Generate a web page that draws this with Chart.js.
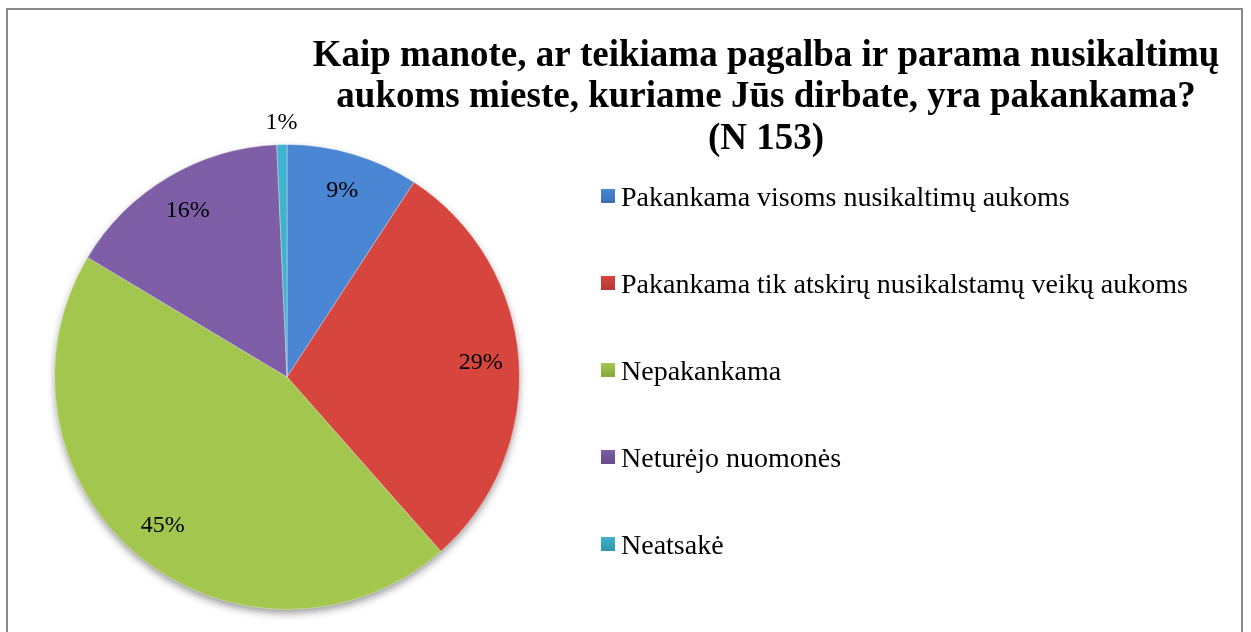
<!DOCTYPE html>
<html>
<head>
<meta charset="utf-8">
<script src="https://cdn.jsdelivr.net/npm/chart.js@4.4.0/dist/chart.umd.min.js"></script>
<style>
  html, body { margin: 0; padding: 0; background: #fff; }
  #wrap { position: relative; width: 1251px; height: 632px; overflow: hidden; }
  #frame { position: absolute; left: 6px; top: 8px; width: 1237px; height: 640px; border: 2px solid #8a8a8a; box-sizing: border-box; }
</style>
</head>
<body>
<div id="wrap">
  <div id="frame"></div>
  <canvas id="myChart" width="1251" height="632"></canvas>
</div>
<script>
const titleLines = ['Kaip manote, ar teikiama pagalba ir parama nusikaltimų', 'aukoms mieste, kuriame Jūs dirbate, yra pakankama?', '(N 153)'];
const labels = ['Pakankama visoms nusikaltimų aukoms', 'Pakankama tik atskirų nusikalstamų veikų aukoms', 'Nepakankama', 'Neturėjo nuomonės', 'Neatsakė'];
const percents = [9.2, 29.3, 45.1, 15.7, 0.7];
const colors = ['#4a86d3', '#d6463f', '#a2c64e', '#7e5ea6', '#3fb3cb'];
const darkColors = ['#3c6fb3', '#b53a34', '#86a83c', '#67498b', '#2f95ac'];

// shadow under the pie + labels, legend and title
const decorPlugin = {
  id: 'decor',
  beforeDatasetsDraw(chart) {
    const arc = chart.getDatasetMeta(0).data[0];
    const ctx = chart.ctx;
    ctx.save();
    ctx.shadowColor = 'rgba(0,0,0,0.45)';
    ctx.shadowBlur = 9;
    ctx.shadowOffsetY = 4;
    ctx.fillStyle = '#999';
    ctx.beginPath();
    ctx.arc(arc.x, arc.y, arc.outerRadius - 1, 0, Math.PI * 2);
    ctx.fill();
    ctx.restore();
  },
  afterDatasetsDraw(chart) {
    const ctx = chart.ctx;
    const meta = chart.getDatasetMeta(0);
    ctx.save();
    ctx.fillStyle = '#000';
    ctx.font = '24px "Liberation Serif", "Times New Roman", serif';
    ctx.textAlign = 'center';
    ctx.textBaseline = 'middle';
    meta.data.forEach((arc, i) => {
      const pct = Math.round(percents[i]);
      const mid = (arc.startAngle + arc.endAngle) / 2;
      const r = pct < 3 ? arc.outerRadius + 22 : arc.outerRadius * 0.835;
      ctx.fillText(pct + '%', arc.x + Math.cos(mid) * r, arc.y + Math.sin(mid) * r);
    });

    // legend
    ctx.font = '28px "Liberation Serif", "Times New Roman", serif';
    ctx.textAlign = 'left';
    ctx.textBaseline = 'alphabetic';
    labels.forEach((lab, i) => {
      const cy = 196 + i * 87;
      const g = ctx.createLinearGradient(0, cy - 7, 0, cy + 7);
      g.addColorStop(0, colors[i]);
      g.addColorStop(1, darkColors[i]);
      ctx.fillStyle = g;
      ctx.fillRect(601, cy - 7, 14, 14);
      ctx.fillStyle = '#000';
      ctx.fillText(lab, 621, cy + 10);
    });

    // title
    ctx.font = 'bold 37px "Liberation Serif", "Times New Roman", serif';
    ctx.textAlign = 'center';
    const base = [66, 107, 149];
    titleLines.forEach((t, i) => ctx.fillText(t, 766, base[i]));
    ctx.restore();
  }
};

const ctx = document.getElementById('myChart').getContext('2d');
const myChart = new Chart(ctx, {
  type: 'pie',
  data: {
    labels: labels,
    datasets: [{
      data: percents,
      backgroundColor: function(c) {
        const arc = c.element;
        const i = c.dataIndex;
        if (!arc || !arc.outerRadius) return colors[i];
        const g = c.chart.ctx.createRadialGradient(arc.x, arc.y, 0, arc.x, arc.y, arc.outerRadius);
        g.addColorStop(0, colors[i]);
        g.addColorStop(0.9, colors[i]);
        g.addColorStop(1, darkColors[i]);
        return g;
      },
      borderColor: 'rgba(255,255,255,0.35)',
      borderWidth: 1
    }]
  },
  options: {
    responsive: false,
    animation: false,
    layout: { padding: { left: 54, top: 144, right: 731, bottom: 22 } },
    plugins: {
      legend: { display: false },
      tooltip: { enabled: false }
    }
  },
  plugins: [decorPlugin]
});
</script>
</body>
</html>
